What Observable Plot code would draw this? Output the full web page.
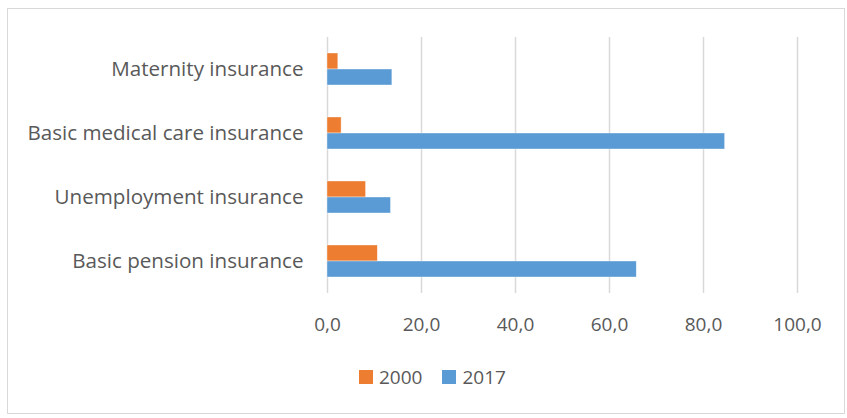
<!DOCTYPE html>
<html>
<head>
<meta charset="utf-8">
<script src="https://cdn.jsdelivr.net/npm/d3@7"></script>
<script src="https://cdn.jsdelivr.net/npm/@observablehq/plot@0.6"></script>
<style>
  html, body { margin: 0; padding: 0; background: #fff; }
  body { width: 847px; height: 418px; position: relative; overflow: hidden; font-family: "Open Sans", sans-serif; }
  #frame { position: absolute; left: 7px; top: 8px; width: 838px; height: 406px; border: 1.5px solid #d9d9d9; box-sizing: border-box; }
  #chart { position: absolute; left: 0; top: 0; }
  #legend { position: absolute; left: 359px; top: 364px; display: flex; align-items: center; font-size: 19px; color: #595959; }
  .item { display: flex; align-items: center; margin-right: 20px; }
  .sw { width: 14px; height: 14px; margin-right: 6px; }
</style>
</head>
<body>
<div id="frame"></div>
<div id="chart"></div>
<div id="legend"></div>
<script>
const categories = ["Maternity insurance", "Basic medical care insurance", "Unemployment insurance", "Basic pension insurance"];
const series = ["2000", "2017"];
const values2000 = [2.3, 3.0, 8.2, 10.7];
const values2017 = [13.8, 84.6, 13.5, 65.8];
const colors = ["#ED7D31", "#5B9BD5"];
const xTicks = [0, 20, 40, 60, 80, 100];

const data = [];
categories.forEach((c, i) => {
  data.push({category: c, series: series[0], value: values2000[i]});
  data.push({category: c, series: series[1], value: values2017[i]});
});

const fmt = d => d3.format(".1f")(d).replace(".", ",");

const plot = Plot.plot({
  width: 847,
  height: 350,
  marginLeft: 327,
  marginRight: 50,
  marginTop: 37,
  marginBottom: 57,
  style: {fontFamily: "Open Sans, sans-serif", fontSize: "19px", color: "#595959", background: "transparent"},
  x: {domain: [0, 100], ticks: xTicks, tickFormat: fmt, label: null},
  fy: {domain: categories, padding: 0, label: null},
  y: {domain: series, axis: null, paddingInner: 0, paddingOuter: 0.94},
  color: {domain: series, range: colors},
  marks: [
    Plot.gridX(xTicks, {stroke: "#d9d9d9", strokeOpacity: 1, strokeWidth: 1.5}),
    Plot.barX(data, {fy: "category", y: "series", x: "value", fill: "series", stroke: "#ffffff", strokeWidth: 0.6, strokeOpacity: 0.6}),
    Plot.axisX(xTicks, {tickSize: 0, tickPadding: 24, tickFormat: fmt, label: null, fill: "#595959", fontSize: 19}),
    Plot.axisFy({anchor: "left", tickSize: 0, tickPadding: 24, label: null, fill: "#595959", fontSize: 20.6})
  ]
});
document.getElementById("chart").appendChild(plot);

const legend = document.getElementById("legend");
series.forEach((s, i) => {
  const item = document.createElement("div");
  item.className = "item";
  const sw = document.createElement("div");
  sw.className = "sw";
  sw.style.background = colors[i];
  const t = document.createElement("span");
  t.textContent = s;
  item.appendChild(sw);
  item.appendChild(t);
  legend.appendChild(item);
});
</script>
</body>
</html>
